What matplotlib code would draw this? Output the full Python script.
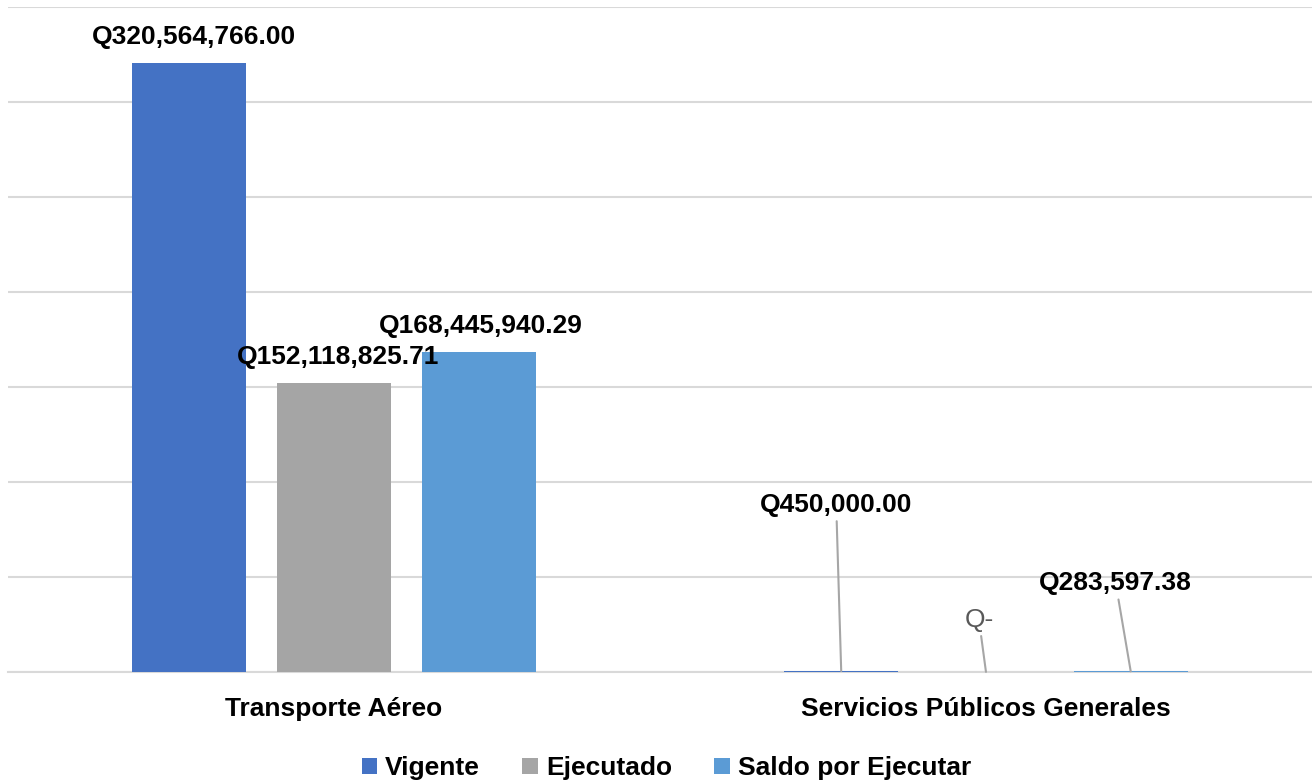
import matplotlib.pyplot as plt
import numpy as np

plt.rcParams['font.family'] = ['Liberation Sans', 'DejaVu Sans']

# Data
categories = ['Transporte Aéreo', 'Servicios Públicos Generales']
series_names = ['Vigente', 'Ejecutado', 'Saldo por Ejecutar']
vigente = [320564766.00, 450000.00]
ejecutado = [152118825.71, 0.0]
saldo = [168445940.29, 283597.38]
colors = ['#4472C4', '#A5A5A5', '#5B9BD5']


def fmt(v):
    if v == 0:
        return 'Q-'
    return 'Q{:,.2f}'.format(v)


fig = plt.figure(figsize=(13.12, 7.84), dpi=100)
ax = fig.add_axes([0.006, 0.143, 0.994, 0.848])

x = np.arange(len(categories))
width = 0.175
offset = 0.222
all_series = [vigente, ejecutado, saldo]

bars = []
for i, (vals, name, c) in enumerate(zip(all_series, series_names, colors)):
    b = ax.bar(x + (i - 1) * offset, vals, width, color=c, label=name, zorder=3)
    bars.append(b)

ax.set_ylim(0, 350e6)
ax.set_xlim(-0.5, 1.5)
ax.set_yticks(np.arange(0, 350e6 + 1, 50e6))
ax.yaxis.grid(True, color='#D9D9D9', linewidth=1.5, zorder=0)
ax.set_yticklabels([])
ax.tick_params(axis='y', length=0)
ax.tick_params(axis='x', length=0, pad=18)
ax.set_xticks(x)
ax.set_xticklabels(categories, fontsize=19, fontweight='bold')
for s in ['top', 'left', 'right']:
    ax.spines[s].set_visible(False)
ax.spines['bottom'].set_color('#D9D9D9')
ax.spines['bottom'].set_linewidth(1.5)

# labels for the big group (just above the bars)
label_dx = [5, 4, 2]
for i in range(3):
    r = bars[i][0]
    v = all_series[i][0]
    ax.annotate(fmt(v), (r.get_x() + r.get_width() / 2, v),
                xytext=(label_dx[i] * 0.72, 26 * 0.72), textcoords='offset points',
                ha='center', va='center', fontsize=19, fontweight='bold', zorder=5)

# labels with leader lines for the small group
leader_off = [(-5, 166), (-7, 52), (-15, 88)]
for i in range(3):
    r = bars[i][1]
    v = all_series[i][1]
    dx, dy = leader_off[i]
    bold = v != 0
    ax.annotate(fmt(v), (r.get_x() + r.get_width() / 2, v),
                xytext=(dx * 0.72, dy * 0.72), textcoords='offset points',
                ha='center', va='center', fontsize=19,
                fontweight='bold' if bold else 'normal',
                color='black' if bold else '#595959',
                arrowprops=dict(arrowstyle='-', color='#A6A6A6', lw=1.5,
                                shrinkA=1, shrinkB=0), zorder=5)

fig.legend(loc='center', bbox_to_anchor=(0.508, 0.02), ncol=3, frameon=False,
           prop={'size': 19, 'weight': 'bold'}, handlelength=0.6, handleheight=0.6,
           handletextpad=0.3, columnspacing=1.6)

fig.savefig('out.png', dpi=100)
